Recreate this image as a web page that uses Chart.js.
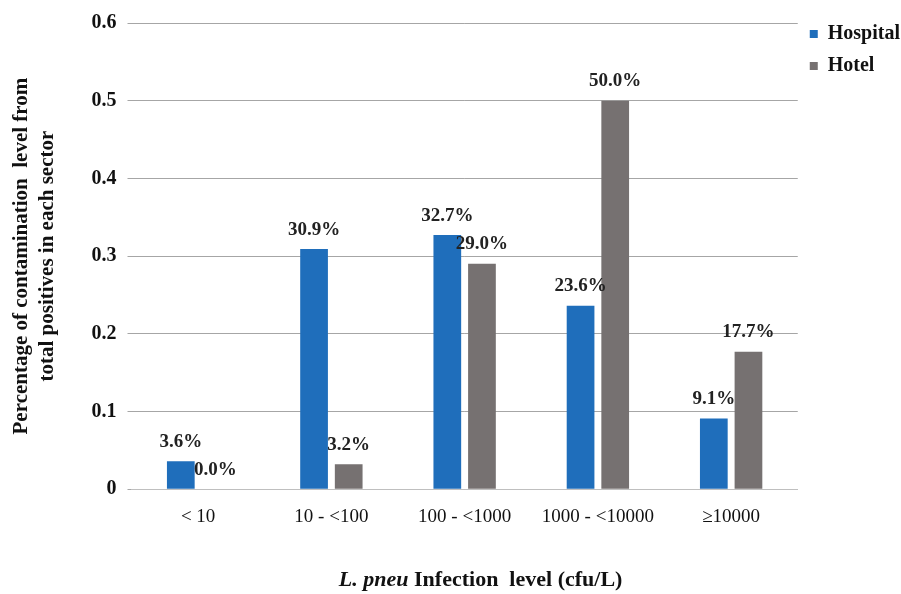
<!DOCTYPE html>
<html>
<head>
<meta charset="utf-8">
<script src="https://cdn.jsdelivr.net/npm/chart.js@4"></script>
<style>
  html, body { margin: 0; padding: 0; background: #fff; }
  #wrap { width: 901px; height: 594px; }
</style>
</head>
<body>
<div id="wrap"><canvas id="chart" width="901" height="594"></canvas></div>
<script>
const categories = ['< 10', '10 - <100', '100 - <1000', '1000 - <10000', '\u226510000'];
const hospitalValues = [0.036, 0.309, 0.327, 0.236, 0.091];
const hotelValues = [0.0, 0.032, 0.290, 0.500, 0.177];
const yTicks = [0, 0.1, 0.2, 0.3, 0.4, 0.5, 0.6];

const serif = "'Liberation Serif', 'Times New Roman', serif";

// value labels above each bar
const barLabels = {
    id: 'barLabels',
    afterDatasetsDraw(chart) {
        const ctx = chart.ctx;
        ctx.save();
        ctx.font = 'bold 19px ' + serif;
        ctx.fillStyle = '#222';
        ctx.textAlign = 'center';
        ctx.textBaseline = 'bottom';
        chart.data.datasets.forEach((ds, i) => {
            chart.getDatasetMeta(i).data.forEach((bar, j) => {
                ctx.fillText((ds.data[j] * 100).toFixed(1) + '%', bar.x, bar.y - 10);
            });
        });
        ctx.restore();
    }
};

// x title with italic species name
const xTitle = {
    id: 'xTitle',
    afterDraw(chart) {
        const ctx = chart.ctx;
        const a = chart.chartArea;
        const p1 = 'L. pneu';
        const p2 = ' Infection  level (cfu/L)';
        ctx.save();
        ctx.fillStyle = '#111';
        ctx.textBaseline = 'middle';
        ctx.font = 'italic bold 22px ' + serif;
        const w1 = ctx.measureText(p1).width;
        ctx.font = 'bold 22px ' + serif;
        const w2 = ctx.measureText(p2).width;
        let x = (a.left + a.right) / 2 - (w1 + w2) / 2 + 16;
        const y = 580;
        ctx.textAlign = 'left';
        ctx.font = 'italic bold 22px ' + serif;
        ctx.fillText(p1, x, y);
        ctx.font = 'bold 22px ' + serif;
        ctx.fillText(p2, x + w1, y);
        ctx.restore();
    }
};

new Chart(document.getElementById('chart'), {
    type: 'bar',
    data: {
        labels: categories,
        datasets: [
            {
                label: 'Hospital',
                data: hospitalValues,
                backgroundColor: '#1f6ebb',
                categoryPercentage: 0.52,
                barPercentage: 0.8
            },
            {
                label: 'Hotel',
                data: hotelValues,
                backgroundColor: '#767171',
                categoryPercentage: 0.52,
                barPercentage: 0.8
            }
        ]
    },
    options: {
        responsive: false,
        animation: false,
        layout: { padding: { top: 12, bottom: 58, left: 8, right: -9 } },
        plugins: {
            legend: {
                position: 'right',
                align: 'start',
                labels: {
                    boxWidth: 8,
                    boxHeight: 8,
                    padding: 12,
                    color: '#111',
                    font: { family: serif, size: 20, weight: 'bold' }
                }
            },
            tooltip: { enabled: false }
        },
        scales: {
            x: {
                grid: { display: false },
                border: { display: true, color: '#bfbfbf', width: 1 },
                ticks: {
                    color: '#111',
                    padding: 8,
                    font: { family: serif, size: 19 }
                }
            },
            y: {
                min: 0,
                max: 0.6,
                afterBuildTicks(scale) {
                    scale.ticks = yTicks.map(v => ({ value: v }));
                },
                grid: { color: '#a6a6a6', lineWidth: 1, drawTicks: true, tickLength: 4 },
                border: { display: false },
                ticks: {
                    color: '#111',
                    padding: 11,
                    font: { family: serif, size: 20, weight: 'bold' },
                    callback: v => String(v)
                },
                title: {
                    display: true,
                    text: ['Percentage of contamination  level from', 'total positives in each sector'],
                    color: '#111',
                    padding: { top: 0, bottom: 20 },
                    font: { family: serif, size: 21, weight: 'bold', lineHeight: 1.25 }
                }
            }
        }
    },
    plugins: [barLabels, xTitle]
});
</script>
</body>
</html>
